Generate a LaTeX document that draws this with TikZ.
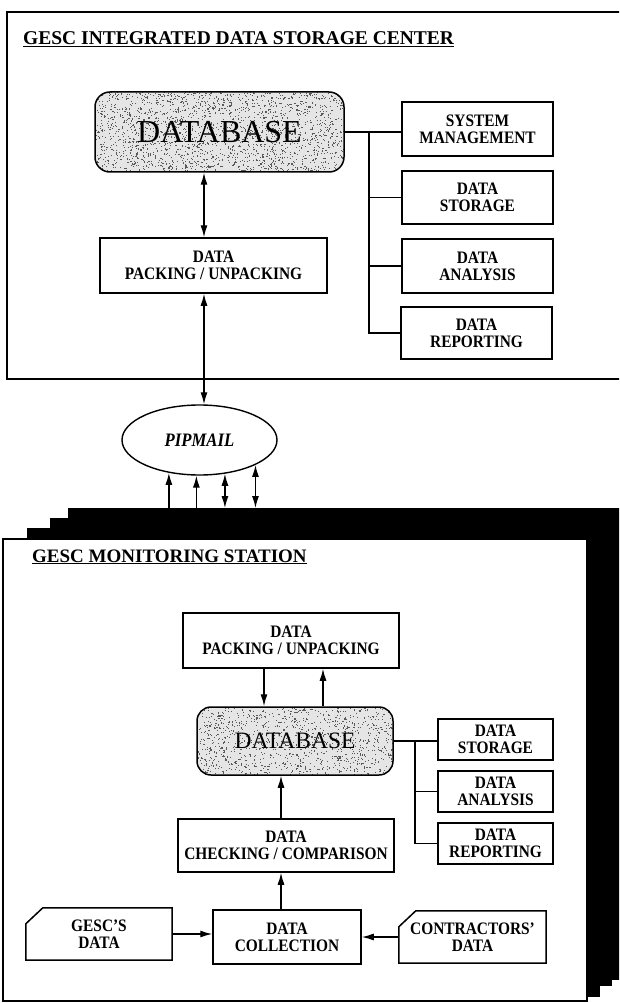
\documentclass[tikz,border=0pt]{standalone}
\usepackage{fontspec}
\setmainfont{Liberation Serif}
\newfontfamily\boxfont{Liberation Serif}[FakeStretch=0.88, Ligatures=TeX]
\usetikzlibrary{arrows.meta,shapes.geometric}
\begin{document}
\begin{tikzpicture}[x=1pt,y=-1pt,
  frameline/.style={line width=1.5pt},
  box/.style={draw, line width=1.5pt, fill=white, align=center, inner sep=0pt,
    font=\boxfont\bfseries\fontsize{17.5}{17}\selectfont},
  plainbox/.style={align=center, inner sep=0pt, font=\boxfont\bfseries\fontsize{17.5}{17}\selectfont},
  boxline/.style={line width=1.5pt, fill=white},
  dbbox/.style={draw, line width=1.5pt, rounded corners=15pt, inner sep=0pt},
  stipple/.style={fill=black!65},
  conn/.style={line width=1.3pt},
  arr/.style={conn, -{Latex[length=12pt,width=7pt]}},
  uparr/.style={conn, {Latex[length=12pt,width=7pt]}-},
  dbl/.style={conn, {Latex[length=12pt,width=7pt]}-{Latex[length=12pt,width=7pt]}},
  titletext/.style={anchor=base west, inner sep=0pt, font=\bfseries\fontsize{19.5}{20}\selectfont}
]
\useasboundingbox (0,0) rectangle (619,1003);
\clip (0,0) rectangle (619,1003);
\pgfmathsetseed{7}

% ===== top frame =====
\draw[frameline] (7,12) rectangle (640,379);
\node[titletext] (title1) at (23,45) {\underline{GESC INTEGRATED DATA STORAGE CENTER}};

% stippled database background
\begin{scope}
  \clip[rounded corners=15pt] (95,92) rectangle (344,172);
  \fill[black!10] (95,92) rectangle (344,172);
  \foreach \i in {1,...,2000}{\fill[stipple] ({95+249*rnd},{92+80*rnd}) rectangle ++(1.1,1.1);}
\end{scope}
\node[dbbox, minimum width=249pt, minimum height=80pt, font=\fontsize{32}{32}\selectfont] (db1) at (219.5,132) {DATABASE};
\node[box, minimum width=227pt, minimum height=55pt] (pack1) at (213.5,265.5) {DATA\\PACKING / UNPACKING};
\node[box, minimum width=151pt, minimum height=54pt] (sys) at (477.5,129) {SYSTEM\\MANAGEMENT};
\node[box, minimum width=151pt, minimum height=53pt] (stor1) at (477.5,197.5) {DATA\\STORAGE};
\node[box, minimum width=151pt, minimum height=54pt] (anal1) at (477.5,266) {DATA\\ANALYSIS};
\node[box, minimum width=151pt, minimum height=52pt] (rep1) at (476.5,333) {DATA\\REPORTING};

\coordinate (tr1) at (369,0);
\draw[conn] (db1.east) -- (db1.east -| sys.west);
\draw[conn] (db1.east -| tr1) -- (rep1.west -| tr1) -- (rep1.west);
\draw[conn] (stor1.west -| tr1) -- (stor1.west);
\draw[conn] (anal1.west -| tr1) -- (anal1.west);

% ===== PIPMAIL =====
\node[ellipse, draw, line width=1.4pt, minimum width=155pt, minimum height=70pt, inner sep=0pt,
  font=\boxfont\bfseries\itshape\fontsize{19}{19}\selectfont] (pip) at (199.5,440) {PIPMAIL};

\coordinate (ax1) at (204,0);
\draw[dbl] (db1.south -| ax1) -- (pack1.north -| ax1);
\draw[dbl] (pack1.south -| ax1) -- (pip.north -| ax1);

% ===== stacked station frames =====
\fill[black] (68,508) rectangle (660,980);
\fill[black] (50,518) rectangle (612,986);
\fill[black] (27,528) rectangle (600,997);
\draw[frameline, fill=white] (3,539) rectangle (587,1001);
\coordinate (stk) at (0,508);

\draw[uparr] (pip.227.7) -- (pip.227.7 |- stk);
\draw[uparr] (pip.265.9) -- (pip.265.9 |- stk);
\draw[dbl] (pip.307.7) -- (pip.307.7 |- stk);
\draw[dbl] (pip.336.2) -- (pip.336.2 |- stk);

% ===== monitoring station =====
\node[titletext, font=\bfseries\fontsize{19}{20}\selectfont] (title2) at (32,562) {\underline{GESC MONITORING STATION}};

\node[box, minimum width=216pt, minimum height=55pt] (pack2) at (291,640.5) {DATA\\PACKING / UNPACKING};
\begin{scope}
  \clip[rounded corners=14pt] (197,707) rectangle (393,775);
  \fill[black!10] (197,707) rectangle (393,775);
  \foreach \i in {1,...,1100}{\fill[stipple] ({197+196*rnd},{707+68*rnd}) rectangle ++(1.1,1.1);}
\end{scope}
\node[dbbox, minimum width=196pt, minimum height=68pt, rounded corners=14pt, font=\fontsize{23.5}{24}\selectfont] (db2) at (295,741) {DATABASE};
\node[box, minimum width=115pt, minimum height=41pt] (stor2) at (495.5,739.5) {DATA\\STORAGE};
\node[box, minimum width=115pt, minimum height=41pt] (anal2) at (495.5,791.5) {DATA\\ANALYSIS};
\node[box, minimum width=115pt, minimum height=41pt] (rep2) at (495.5,843.5) {DATA\\REPORTING};
\node[box, minimum width=216pt, minimum height=53pt] (chk2) at (286,845.5) {DATA\\CHECKING / COMPARISON};
\node[box, minimum width=148pt, minimum height=54pt] (coll2) at (287,937) {DATA\\COLLECTION};

\node[plainbox, minimum width=146pt, minimum height=52pt] (gesc) at (99,934) {};
\draw[boxline] ([xshift=17pt]gesc.north west) -- (gesc.north east) -- (gesc.south east)
  -- (gesc.south west) -- ([yshift=-16pt]gesc.north west) -- cycle;
\node[plainbox] (gesctext) at (gesc.center) {GESC'S\\DATA};

\node[plainbox, minimum width=147pt, minimum height=52pt] (contr) at (472.5,937) {};
\draw[boxline] ([xshift=17pt]contr.north west) -- (contr.north east) -- (contr.south east)
  -- (contr.south west) -- ([yshift=-16pt]contr.north west) -- cycle;
\node[plainbox] (contrtext) at (contr.center) {CONTRACTORS'\\DATA};

\coordinate (d1) at (264,0);
\coordinate (d2) at (323,0);
\coordinate (d3) at (281,0);
\coordinate (tr2) at (415,0);
\draw[arr] (pack2.south -| d1) -- (db2.north -| d1);
\draw[arr] (db2.north -| d2) -- (pack2.south -| d2);
\draw[arr] (chk2.north -| d3) -- (db2.south -| d3);
\draw[arr] (coll2.north -| d3) -- (chk2.south -| d3);
\draw[arr] (gesc.east) -- (gesc.east -| coll2.west);
\draw[arr] (contr.west) -- (contr.west -| coll2.east);

\draw[conn] (db2.east) -- (db2.east -| stor2.west);
\draw[conn] (db2.east -| tr2) -- (rep2.west -| tr2) -- (rep2.west);
\draw[conn] (anal2.west -| tr2) -- (anal2.west);
\end{tikzpicture}
\end{document}
